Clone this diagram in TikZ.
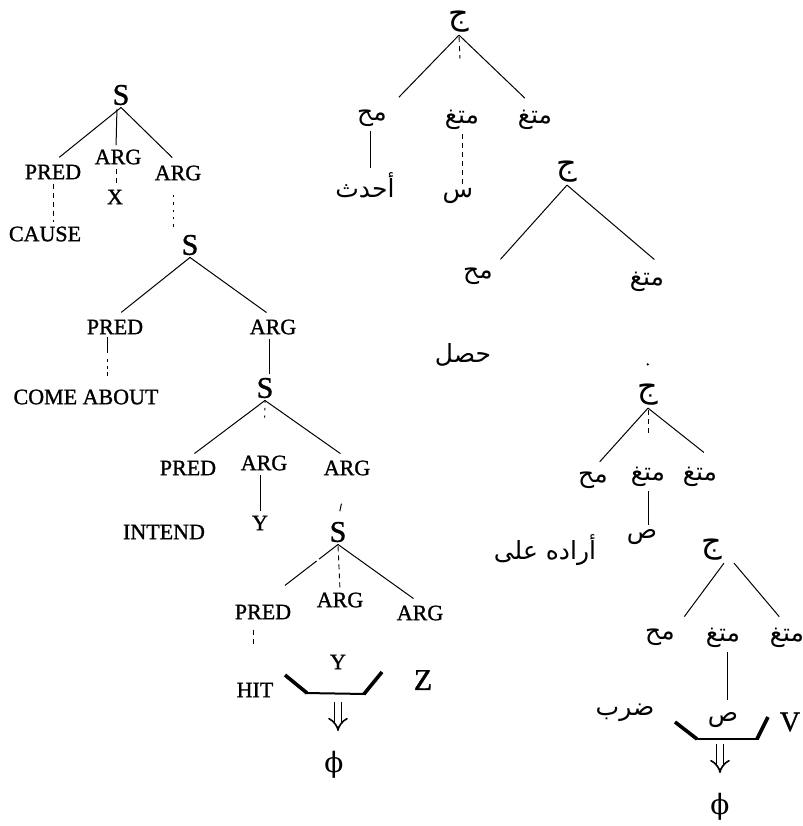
\documentclass[tikz,border=0pt]{standalone}
\usepackage{fontspec}
\setmainfont{Liberation Serif}[BoldFont={Liberation Serif}, BoldFeatures={FakeBold=1.2}]
\newfontfamily\arabicfont[Script=Arabic]{DejaVu Sans}
\newfontfamily\greekfont{DejaVu Serif}
\TeXXeTstate=1
\newcommand\rtl[1]{\beginR#1\endR}
\usetikzlibrary{calc,arrows.meta}

\tikzset{
  lbl/.style={font=\fontsize{11}{12}\selectfont\bfseries, inner sep=1pt},
  ssym/.style={font=\fontsize{15}{16}\selectfont\bfseries, inner sep=1pt},
  big/.style={font=\fontsize{15}{16}\selectfont\bfseries, inner sep=1pt},
  ar/.style={font=\arabicfont\fontsize{12.5}{14}\selectfont, inner sep=1pt},
  arbig/.style={font=\arabicfont\fontsize{16}{18}\selectfont, inner sep=1pt},
  phisym/.style={font=\greekfont\fontsize{14}{16}\selectfont, inner sep=1pt},
  rewrite/.style={line width=0.8pt, double distance=2.6pt, -{Implies}},
  branch/.style={line width=0.5pt, shorten >=4pt},
  solidlink/.style={line width=0.5pt, shorten >=1pt, shorten <=1pt},
  dashlink/.style={line width=0.45pt, dash pattern=on 2.5pt off 2pt, shorten >=1pt, shorten <=1pt},
  dotlink/.style={line width=0.45pt, dash pattern=on 1.2pt off 2.5pt},
  brkside/.style={line width=1.8pt},
  brkbase/.style={line width=1pt},
}

\begin{document}
\begin{tikzpicture}[x=0.5pt,y=-0.5pt]
\useasboundingbox (0,0) rectangle (803,826);

% ---------- English tree ----------
\node[ssym] (S1) at (121,95) {S};
\node[lbl] (P1) at (53,172) {PRED};
\node[lbl] (A1) at (118,157) {ARG};
\node[lbl] (A2) at (178,173) {ARG};
\node[lbl] (X) at (115,197) {X};
\node[lbl] (CAUSE) at (45,234) {CAUSE};
\node[ssym] (S2) at (190,245) {S};

\draw[branch] (S1.south) -- (P1.north);
\draw[solidlink] ([xshift=-2pt]S1.south) -- ([xshift=-1pt]A1.north);
\draw[branch] (S1.south) -- (A2.north);
\draw[dashlink] (P1.south) -- (P1.south |- CAUSE.north);
\draw[dashlink] ([xshift=-1pt]A1.south) -- ([xshift=-1pt]A1.south |- X.north);
\draw[dotlink] ([xshift=-2.5pt,yshift=-6pt]A2.south) -- ([xshift=-2.5pt,yshift=3pt]A2.south |- S2.north);

\node[lbl] (P2) at (115,327) {PRED};
\node[lbl] (A3) at (273,327) {ARG};
\node[lbl] (CA) at (86,397) {COME ABOUT};
\node[ssym] (S3) at (265,388) {S};

\draw[branch] (S2.south) -- (P2.north);
\draw[branch] (S2.south) -- (A3.north);
\draw[line width=0.45pt, dash pattern=on 8pt off 3pt on 1.5pt off 2pt on 1.5pt off 1.5pt on 2pt off 20pt]
  ([xshift=-4pt]P2.south) -- ([xshift=-4pt]P2.south |- CA.north);
\draw[solidlink] ([xshift=-2pt]A3.south) -- ([xshift=-2pt]A3.south |- S3.north);

\node[lbl] (P3) at (188,468) {PRED};
\node[lbl] (A4) at (264,463) {ARG};
\node[lbl] (A5) at (347,468) {ARG};
\node[lbl] (Y1) at (260,523) {Y};
\node[lbl] (INT) at (164,532) {INTEND};
\node[ssym] (S4) at (338,532) {S};

\draw[branch] (S3.south) -- (P3.north);
\draw[dotlink] (S3.south) -- ($(S3.south)!0.35!(A4.north)$);
\draw[branch] (S3.south) -- (A5.north);
\draw[solidlink] ([xshift=-2pt]A4.south) -- ([xshift=-2pt]A4.south |- Y1.north);
\draw[line width=0.5pt] ($(A5.south)!0.62!(S4.north)$) -- ($(A5.south)!0.8!(S4.north)$);

\node[lbl] (P4) at (263,612) {PRED};
\node[lbl] (A6) at (340,600) {ARG};
\node[lbl] (A7) at (420,613) {ARG};
\node[lbl] (Y2) at (338,662) {Y};
\node[lbl] (HIT) at (255,690) {HIT};
\node[big] (Z) at (423,680) {Z};

\draw[branch, dash pattern=on 12pt off 1.5pt on 20pt] (S4.south) -- (P4.north);
\draw[dashlink] (S4.south) -- (A6.north);
\draw[branch] (S4.south) -- (A7.north);
\draw[dashlink, shorten >=0pt] ([xshift=-5pt,yshift=-3pt]P4.south) -- ($([xshift=-5pt]P4.south)!0.4!([xshift=-5pt]P4.south |- HIT.north)$);

% collapsing bracket and rewrite arrow
\draw[brkside] (285,675) -- (307,693);
\draw[brkbase] (305,693) -- (366,694);
\draw[brkside] (364,694) -- (382,672);
\node[phisym] (F1) at (334,765) {ϕ};
\draw[rewrite] (338,702) -- (338,731);

% ---------- Arabic tree ----------
\node[arbig] (J1) at (459,22) {\rtl{ج}};
\node[ar] (M1) at (372,118) {\rtl{مح}};
\node[ar] (T1) at (462,120) {\rtl{متغ}};
\node[ar] (T2) at (535,120) {\rtl{متغ}};
\node[ar] (W1) at (365,185) {\rtl{أحدث}};
\node[ar] (SIN) at (458,196) {\rtl{س}};

\draw[branch, shorten >=7pt] (J1.south) -- (M1.north east);
\draw[dashlink] (J1.south) -- ($(J1.south)!0.35!(T1.north)$);
\draw[branch, shorten >=7pt] (J1.south) -- (T2.north);
\draw[solidlink] ([xshift=-1pt]M1.south) -- ([xshift=-1pt]M1.south |- W1.north);
\draw[dashlink] (T1.south) -- (T1.south |- SIN.north);

\node[arbig] (J2) at (567,172) {\rtl{ج}};
\node[ar] (M2) at (478,276) {\rtl{مح}};
\node[ar] (T3) at (647,282) {\rtl{متغ}};
\node[ar] (HSL) at (463,355) {\rtl{حصل}};

\draw[branch] (J2.south) -- (M2.north east);
\draw[branch, shorten >=8pt] (J2.south) -- (T3.north east);

\node[arbig] (J3) at (648,395) {\rtl{ج}};
\fill ($(T3.south)!0.8!(J3.north)$) circle (0.6pt);
\node[ar] (M3) at (593,480) {\rtl{مح}};
\node[ar] (T4) at (648,477) {\rtl{متغ}};
\node[ar] (T5) at (700,477) {\rtl{متغ}};
\node[ar] (SAD1) at (642,537) {\rtl{ص}};
\node[ar] (ARD) at (545,550) {\rtl{أراده على}};

\draw[branch, shorten >=5pt] (J3.south) -- (M3.north);
\draw[dashlink] (J3.south) -- ($(J3.south)!0.5!(T4.north)$);
\draw[branch, shorten >=10pt] (J3.south) -- (T5.north east);
\draw[solidlink] (T4.south) -- (T4.south |- SAD1.north);

\node[arbig] (J4) at (712,550) {\rtl{ج}};
\node[ar] (M4) at (660,637) {\rtl{مح}};
\node[ar] (T6) at (723,638) {\rtl{متغ}};
\node[ar] (T7) at (787,638) {\rtl{متغ}};
\node[ar] (SAD2) at (723,720) {\rtl{ص}};
\node[ar] (DRB) at (625,713) {\rtl{ضرب}};
\node[big, font=\fontsize{14}{15}\selectfont\bfseries] (V) at (790,722) {V};

\draw[branch, shorten >=6pt] ([xshift=6pt]J4.south) -- (M4.north east);
\draw[branch, shorten >=6pt] ([xshift=11pt]J4.south) -- (T7.north);
\draw[solidlink] ([xshift=2pt]T6.south) -- ([xshift=2pt,yshift=4pt]T6.south |- SAD2.north);

\draw[brkside] (675,722) -- (697,739);
\draw[brkbase] (695,739) -- (759,739);
\draw[brkside] (757,739) -- (768,717);
\node[phisym] (F2) at (720,807) {ϕ};
\draw[rewrite] (720,744) -- (720,773);
\end{tikzpicture}
\end{document}
